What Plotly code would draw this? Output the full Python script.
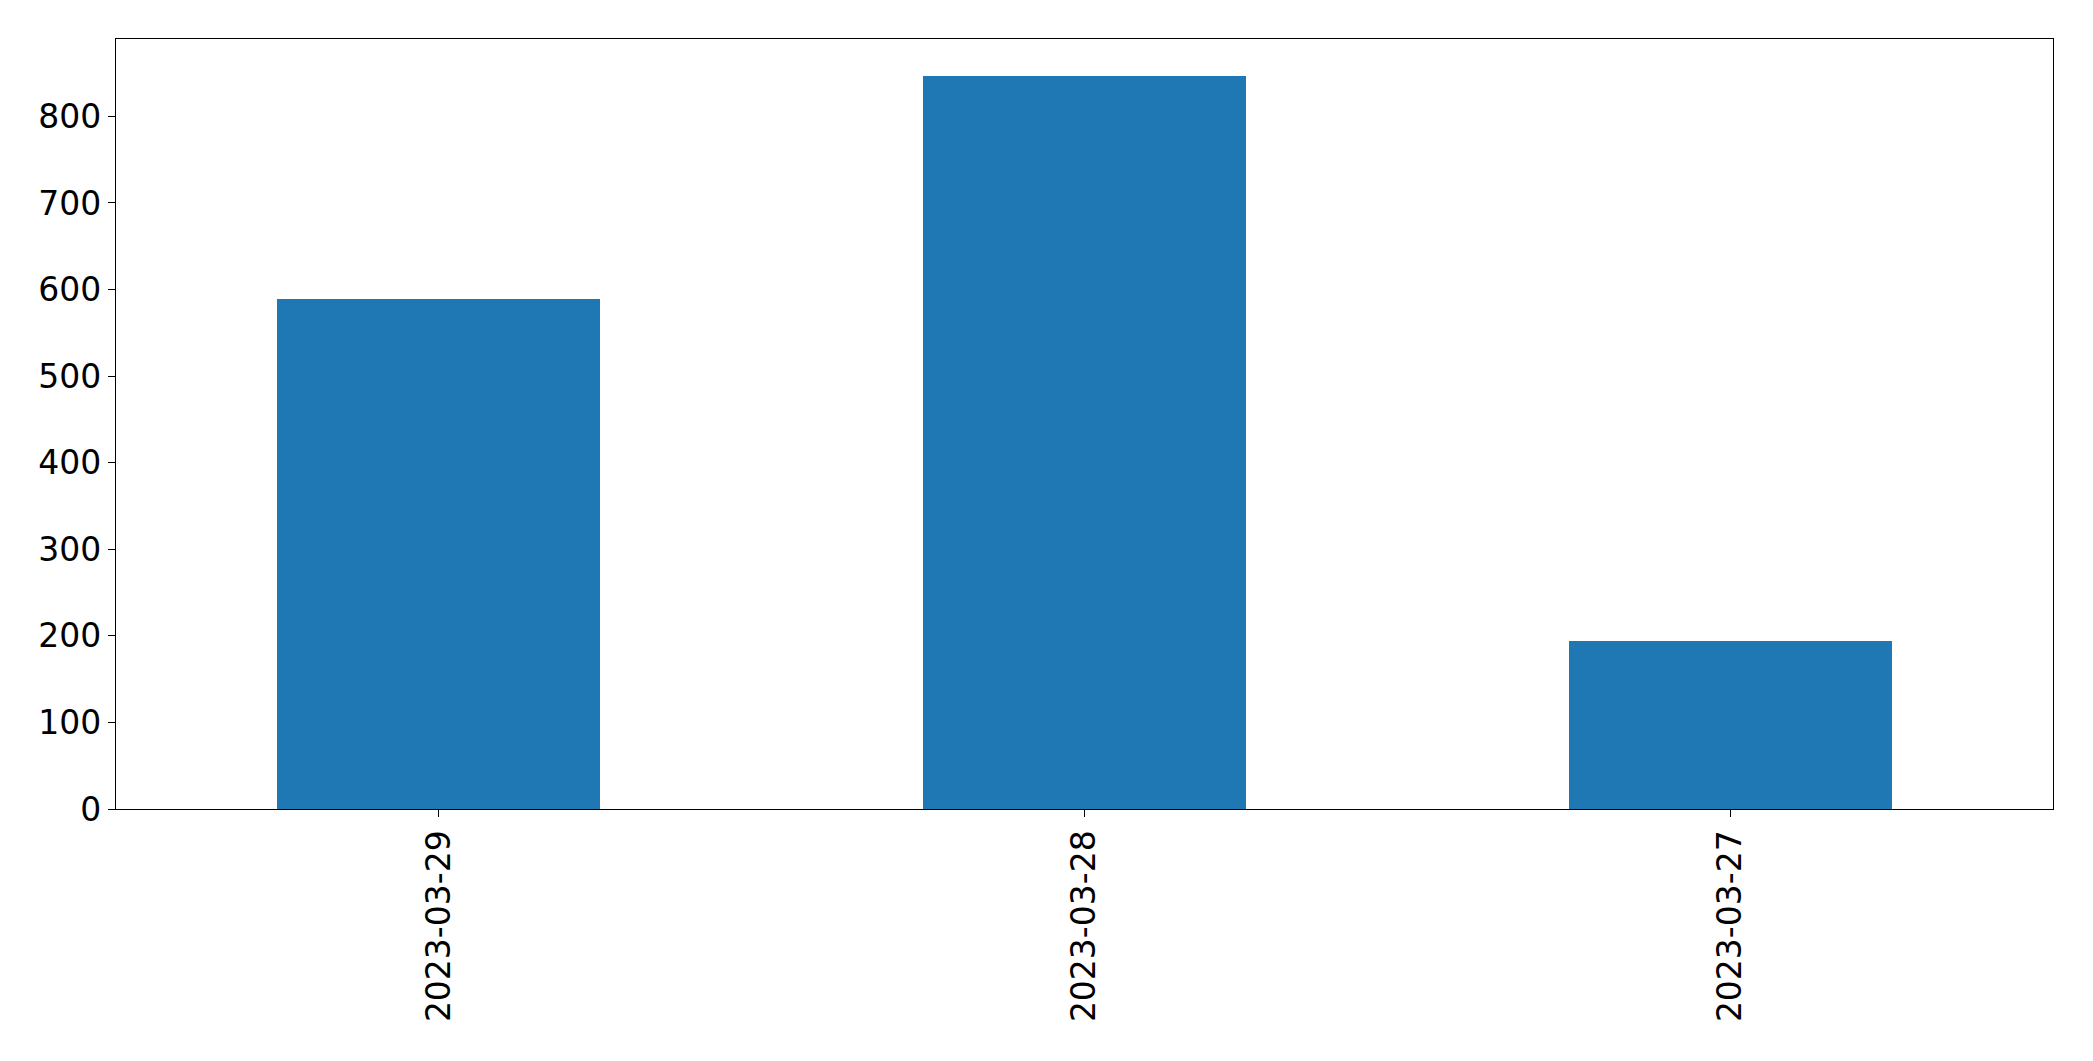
import plotly.graph_objects as go

dates = ['2023-03-29', '2023-03-28', '2023-03-27']
counts = [589, 847, 194]

fig = go.Figure()
fig.add_trace(go.Bar(x=dates, y=counts, width=0.5, marker_color='#1f77b4',
                     marker_line_width=0))

axis_style = dict(showline=True, linecolor='black', linewidth=1.3, mirror=True,
                  ticks='outside', ticklen=7, tickwidth=1.3, tickcolor='black',
                  showgrid=False, zeroline=False,
                  tickfont=dict(family='DejaVu Sans', size=33, color='black'))

fig.update_xaxes(type='category', range=[-0.5, 2.5], tickangle=-90, **axis_style)
fig.update_yaxes(range=[0, max(counts) * 1.05], dtick=100, **axis_style)

# page body adds an 8px offset, margins compensate for it
fig.update_layout(width=2093, height=1061, plot_bgcolor='white', paper_bgcolor='white',
                  margin=dict(l=108, r=48, t=31, b=260), showlegend=False,
                  bargap=0)

fig.write_html("out.html")
